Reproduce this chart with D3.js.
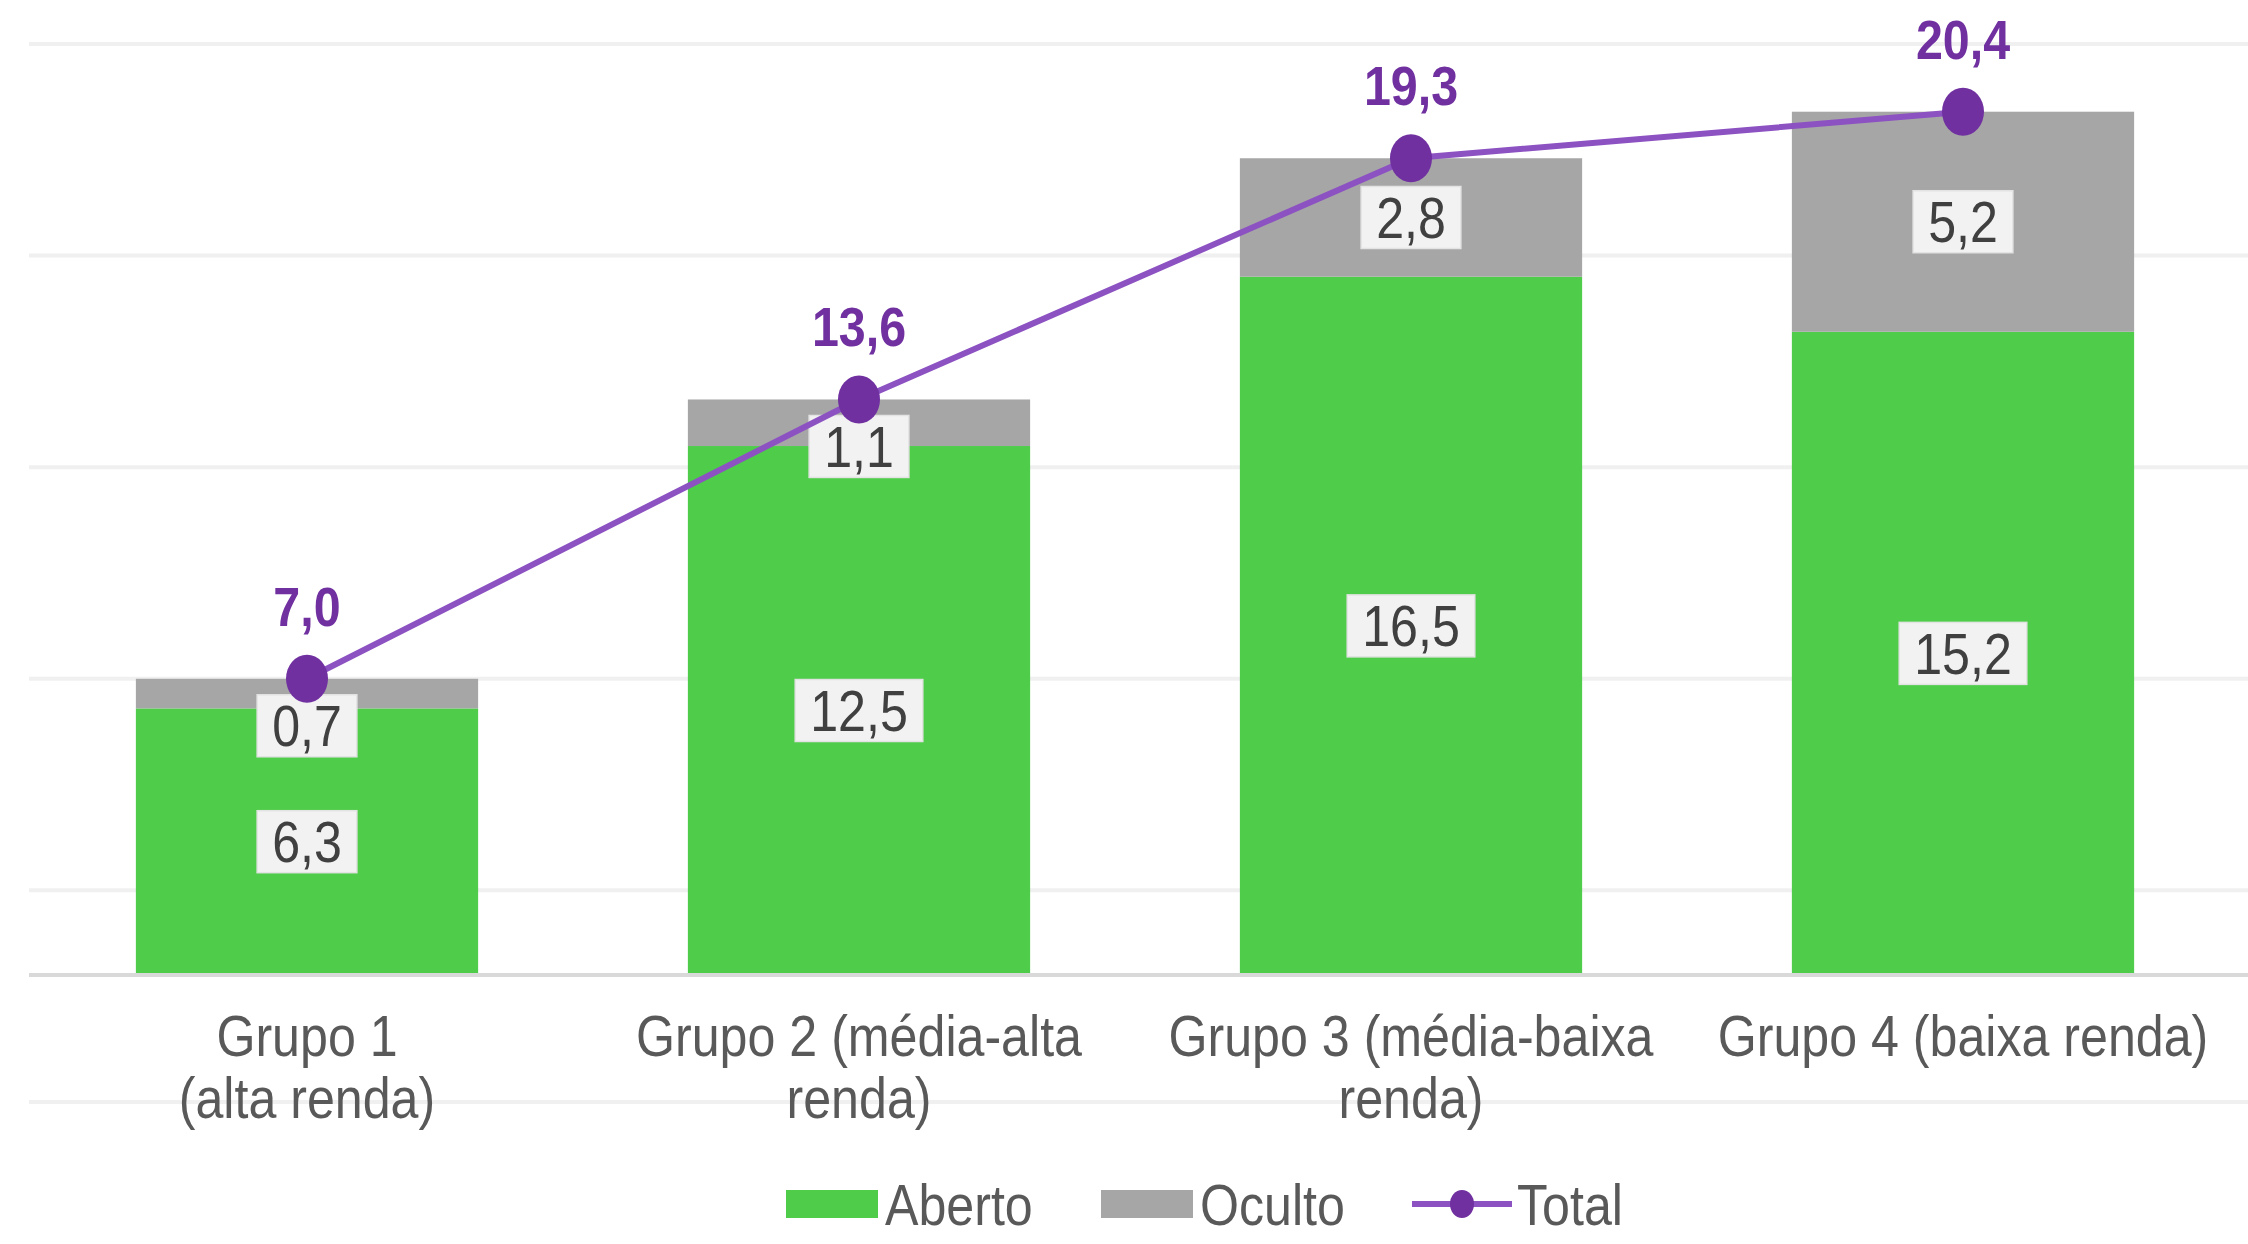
<!DOCTYPE html>
<html>
<head>
<meta charset="utf-8">
<script src="https://cdn.jsdelivr.net/npm/d3@7"></script>
<style>
  body { margin: 0; background: #fff; }
  text { font-family: "Liberation Sans Narrow", "Arial Narrow", "Liberation Sans", sans-serif; }
</style>
</head>
<body>
<div class="chart"></div>
<script>
// data
const categories = ["Grupo 1", "Grupo 2", "Grupo 3", "Grupo 4"];
const categoryLines = [
  ["Grupo 1", "(alta renda)"],
  ["Grupo 2 (média-alta", "renda)"],
  ["Grupo 3 (média-baixa", "renda)"],
  ["Grupo 4 (baixa renda)"]
];
const aberto = [6.3, 12.5, 16.5, 15.2];
const oculto = [0.7, 1.1, 2.8, 5.2];
const total = [7.0, 13.6, 19.3, 20.4];
const gridValues = [-3, 2, 7, 12, 17, 22];
const seriesNames = ["Aberto", "Oculto", "Total"];

const width = 2248, height = 1244;
const colors = { Aberto: "#4fcc4a", Oculto: "#a6a6a6", line: "#8c52c2", marker: "#7030a0" };
const squeeze = 0.88; // the original font is a condensed one

const pt = d3.formatLocale({ decimal: ",", thousands: ".", grouping: [3], currency: ["", ""] });
const fmt = pt.format(".1f");

const svg = d3.select(".chart").append("svg")
  .attr("width", width)
  .attr("height", height);

const x = d3.scaleBand()
  .domain(categories)
  .range([31, 2239])
  .paddingInner(0.38)
  .paddingOuter(0.19);

const y = d3.scaleLinear()
  .domain([0, 22])
  .range([975, 44]);

const cx = (d, i) => x(categories[i]) + x.bandwidth() / 2;

// gridlines
svg.selectAll(".grid")
  .data(gridValues)
  .enter()
  .append("line")
  .attr("class", "grid")
  .attr("x1", 29).attr("x2", width)
  .attr("y1", d => y(d)).attr("y2", d => y(d))
  .attr("stroke", "#f0f0f0")
  .attr("stroke-width", 4);

const rows = categories.map((c, i) => ({ cat: c, Aberto: aberto[i], Oculto: oculto[i], total: total[i] }));
const stacked = d3.stack().keys(["Aberto", "Oculto"])(rows);

svg.selectAll(".serie")
  .data(stacked)
  .enter()
  .append("g")
  .attr("fill", d => colors[d.key])
  .selectAll("rect")
  .data(d => d)
  .enter()
  .append("rect")
  .attr("x", d => x(d.data.cat))
  .attr("width", x.bandwidth())
  .attr("y", d => y(d[1]))
  .attr("height", d => y(d[0]) - y(d[1]));

// baseline
svg.append("line")
  .attr("x1", 29).attr("x2", width)
  .attr("y1", y(0)).attr("y2", y(0))
  .attr("stroke", "#d9d9d9")
  .attr("stroke-width", 4);

// value labels in boxes
const labelData = [];
stacked.forEach(s => {
  s.forEach(d => {
    let cy = (y(d[0]) + y(d[1])) / 2;
    cy = Math.max(cy, y(d.data.total) + 47);
    labelData.push({ x: x(d.data.cat) + x.bandwidth() / 2, y: cy, v: d[1] - d[0] });
  });
});

const lab = svg.selectAll(".vlabel")
  .data(labelData)
  .enter()
  .append("g")
  .attr("class", "vlabel")
  .attr("transform", d => `translate(${d.x},${d.y})`);

lab.append("text")
  .attr("text-anchor", "middle")
  .attr("dy", "0.36em")
  .attr("font-size", 57)
  .attr("fill", "#404040")
  .attr("transform", `scale(${squeeze},1)`)
  .text(d => fmt(d.v));

lab.each(function() {
  const g = d3.select(this);
  const w = g.select("text").node().getComputedTextLength() * squeeze;
  g.insert("rect", "text")
    .attr("x", -w / 2 - 15)
    .attr("y", -31)
    .attr("width", w + 30)
    .attr("height", 62)
    .attr("fill", "#f2f2f2")
    .attr("stroke", "#e3e3e3")
    .attr("stroke-width", 1.5);
});

// total line
const line = d3.line()
  .x((d, i) => cx(d, i))
  .y(d => y(d));

svg.append("path")
  .datum(total)
  .attr("fill", "none")
  .attr("stroke", colors.line)
  .attr("stroke-width", 6)
  .attr("d", line);

svg.selectAll(".dot")
  .data(total)
  .enter()
  .append("ellipse")
  .attr("cx", cx)
  .attr("cy", d => y(d))
  .attr("rx", 21)
  .attr("ry", 24)
  .attr("fill", colors.marker);

svg.selectAll(".tlabel")
  .data(total)
  .enter()
  .append("text")
  .attr("transform", (d, i) => `translate(${cx(d, i)},${y(d) - 73}) scale(${squeeze},1)`)
  .attr("dy", "0.36em")
  .attr("text-anchor", "middle")
  .attr("font-size", 55)
  .attr("font-weight", "bold")
  .attr("fill", colors.marker)
  .text(d => fmt(d));

// category labels
const xl = svg.selectAll(".xlabel")
  .data(categories)
  .enter()
  .append("text")
  .attr("class", "xlabel")
  .attr("transform", d => `translate(${x(d) + x.bandwidth() / 2},0) scale(${squeeze},1)`)
  .attr("text-anchor", "middle")
  .attr("font-size", 57)
  .attr("fill", "#595959");

xl.selectAll("tspan")
  .data((d, i) => categoryLines[i])
  .enter()
  .append("tspan")
  .attr("x", 0)
  .attr("y", (d, j) => 1035 + j * 62)
  .attr("dy", "0.36em")
  .text(d => d);

// legend
const legY = 1204;
const legend = svg.append("g");
const legItems = [
  { name: seriesNames[0], x: 786 },
  { name: seriesNames[1], x: 1101 },
  { name: seriesNames[2], x: 1412 }
];
legItems.forEach(it => {
  if (it.name === "Total") {
    legend.append("line")
      .attr("x1", it.x).attr("x2", it.x + 100)
      .attr("y1", legY).attr("y2", legY)
      .attr("stroke", colors.line).attr("stroke-width", 6);
    legend.append("ellipse")
      .attr("cx", it.x + 50).attr("cy", legY).attr("rx", 12).attr("ry", 14)
      .attr("fill", colors.marker);
  } else {
    legend.append("rect")
      .attr("x", it.x).attr("y", legY - 14)
      .attr("width", 92).attr("height", 28)
      .attr("fill", colors[it.name]);
  }
  legend.append("text")
    .attr("transform", `translate(${it.x + (it.name === "Total" ? 105 : 99)},${legY}) scale(${squeeze},1)`)
    .attr("dy", "0.36em")
    .attr("font-size", 57).attr("fill", "#595959")
    .text(it.name);
});
</script>
</body>
</html>
